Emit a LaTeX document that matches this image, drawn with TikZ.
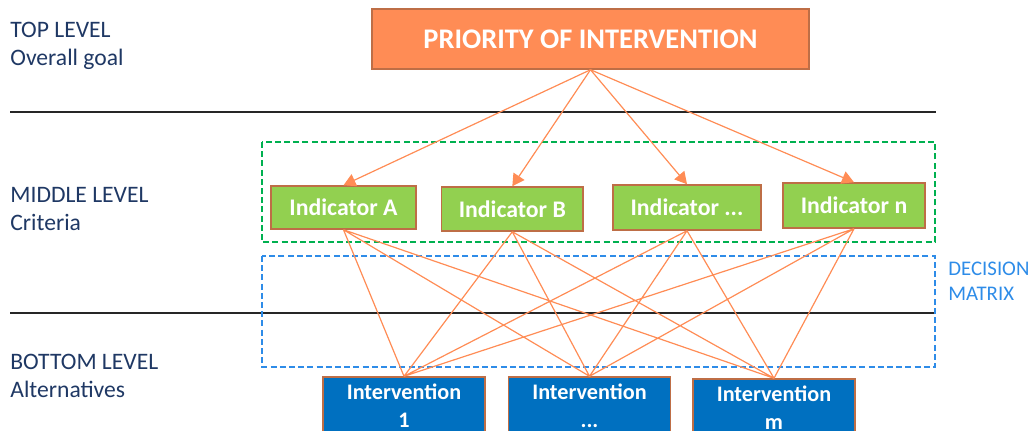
\documentclass[tikz,border=0pt]{standalone}
\usepackage{fontspec}
\setmainfont{Carlito}
\usetikzlibrary{arrows.meta}

\definecolor{levelblue}{RGB}{31,56,100}
\definecolor{matrixblue}{RGB}{46,140,232}
\definecolor{framegreen}{RGB}{0,176,80}
\definecolor{boxborder}{RGB}{190,110,70}
\definecolor{goalfill}{RGB}{255,140,85}
\definecolor{critfill}{RGB}{146,208,80}
\definecolor{altfill}{RGB}{0,112,192}
\definecolor{linkorange}{RGB}{255,140,85}

\begin{document}
\begin{tikzpicture}[x=0.5pt, y=-0.5pt,
  levellabel/.style={anchor=base west, align=left, inner sep=0pt, text=levelblue,
    font=\fontsize{11.8}{14}\selectfont},
  goalbox/.style={draw=boxborder, line width=0.75pt, fill=goalfill, text=white,
    inner sep=0pt, font=\bfseries\fontsize{14.2}{17}\selectfont},
  critbox/.style={draw=boxborder, line width=0.75pt, fill=critfill, text=white,
    inner sep=0pt, font=\bfseries\fontsize{11.9}{14}\selectfont},
  altbox/.style={draw=boxborder, line width=0.75pt, fill=altfill, text=white,
    inner sep=0pt, align=center, minimum width=81pt, minimum height=29pt,
    font=\bfseries\fontsize{11.1}{14}\selectfont},
  link/.style={color=linkorange, line width=0.6pt},
  arrowlink/.style={link, -{Triangle[length=6pt,width=6.5pt]}},
  frame/.style={line width=1pt, dash pattern=on 3pt off 1.6pt}]

\useasboundingbox (0,0) rectangle (1032,430);

% levels
\draw[line width=0.8pt, black!85] (10,111.7) -- (936,111.7);
\draw[line width=0.8pt, black!85] (10,313) -- (936,313);

\draw (10,65) node[levellabel] (lvltop) {TOP LEVEL\\Overall goal};
\draw (10,230) node[levellabel] (lvlmid) {MIDDLE LEVEL\\Criteria};
\draw (10,397) node[levellabel] (lvlbot) {BOTTOM LEVEL\\Alternatives};

% frames
\draw[frame, framegreen] (262,142) rectangle (935,242);
\draw[frame, matrixblue] (262,256) rectangle (935,367);
\draw (948,300) node[levellabel, text=matrixblue,
  font=\fontsize{10.4}{12.5}\selectfont] (dm) {DECISION\\MATRIX};

% goal
\draw (590.5,39) node[goalbox, minimum width=218.5pt, minimum height=30pt] (top)
  {PRIORITY OF INTERVENTION};

% criteria
\draw (343.5,207.5) node[critbox, minimum width=72.5pt, minimum height=21.5pt] (inda) {Indicator A};
\draw (512.3,209) node[critbox, minimum width=70.7pt, minimum height=22pt] (indb) {Indicator B};
\draw (687,207.5) node[critbox, minimum width=74pt, minimum height=22.5pt] (indd) {Indicator ...};
\draw (854,205.5) node[critbox, minimum width=71pt, minimum height=22.5pt] (indn) {Indicator n};

% alternatives
\draw (404,406) node[altbox] (int1) {Intervention\\1};
\draw (589.5,406) node[altbox] (intd) {Intervention\\...};
\draw (774,408) node[altbox] (intm) {Intervention\\m};

\path
     (top.south) edge[arrowlink] (inda.north)
     (top.south) edge[arrowlink] (indb.north)
     (top.south) edge[arrowlink] (indd.north)
     (top.south) edge[arrowlink] (indn.north);

\draw[link]
     (inda.south) to (int1.north)
     (inda.south) to (intd.north)
     (inda.south) to (intm.north)

     (indb.south) to (int1.north)
     (indb.south) to (intd.north)
     (indb.south) to (intm.north)

     (indd.south) to (int1.north)
     (indd.south) to (intd.north)
     (indd.south) to (intm.north)

     (indn.south) to (int1.north)
     (indn.south) to (intd.north)
     (indn.south) to (intm.north) ;
\end{tikzpicture}
\end{document}
